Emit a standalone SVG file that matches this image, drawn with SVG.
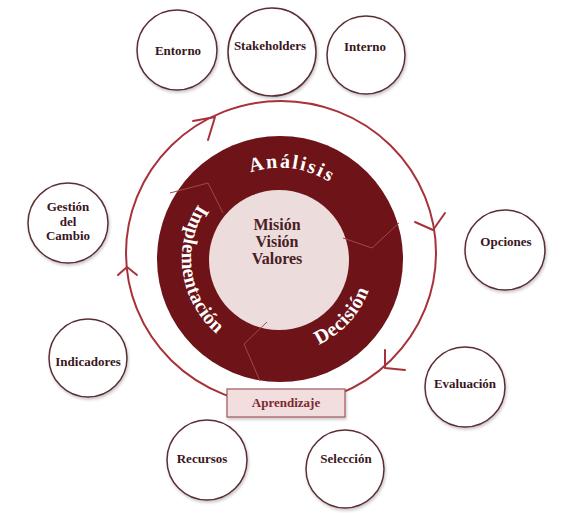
<svg xmlns="http://www.w3.org/2000/svg" width="585" height="513" viewBox="0 0 585 513">
<defs>
<filter id="sh" x="-20%" y="-20%" width="140%" height="140%">
<feDropShadow dx="1" dy="2" stdDeviation="1.5" flood-color="#000" flood-opacity="0.22"/>
</filter>
<path id="pA" d="M188.79,246.99 A92,92 0 0 1 371.21,271.01"/>
<path id="pI" d="M266.36,161.95 A98,98 0 0 0 293.64,356.05"/>
<path id="pD" d="M216.49,328.30 A94,94 0 0 0 343.51,189.70"/>
</defs>
<style>
.node circle{fill:#fff;stroke:#5a2e32;stroke-width:1.5;filter:url(#sh)}
.lbl{font-family:"Liberation Serif","Times New Roman",serif;font-weight:bold;font-size:13px;fill:#3a161c;text-anchor:middle}
.ring{fill:none;stroke:#a8323a;stroke-width:2}
.chev{fill:none;stroke:#a8323a;stroke-width:2;stroke-linecap:round;stroke-linejoin:round}
.div{fill:none;stroke:#a0484c;stroke-width:1}
.seg{font-family:"Liberation Serif","Times New Roman",serif;font-weight:bold;font-size:20px;fill:#fff}
.core{font-family:"Liberation Serif","Times New Roman",serif;font-weight:bold;font-size:16px;fill:#4a1c24;text-anchor:middle}
</style>
<rect width="585" height="513" fill="#fff"/>

<g id="connectors">
<ellipse class="ring" cx="281" cy="253" rx="155" ry="152"/>
<path class="chev" d="M193,121 L215,117 L208,140"/>
<path class="chev" d="M415,222 L433,230 L445,213"/>
<path class="chev" d="M385,350 L385,368 L405,370"/>
<path class="chev" d="M118,275 L127,267 L137,275"/>
</g>

<g id="cycle">
<circle cx="280" cy="259" r="123" fill="#6e1418"/>
<circle cx="279" cy="260" r="70" fill="#ecdcdc"/>
<path class="div" d="M170,193 L208,183 L223,213"/>
<path class="div" d="M343,238 L372,248 L399,223"/>
<path class="div" d="M267,322 L244,344 L260,381"/>
<text class="seg" letter-spacing="2"><textPath href="#pA" startOffset="50%" text-anchor="middle">Análisis</textPath></text>
<text class="seg" letter-spacing="0.3"><textPath href="#pI" startOffset="50%" text-anchor="middle">Implementación</textPath></text>
<text class="seg" letter-spacing="0.5"><textPath href="#pD" startOffset="50%" text-anchor="middle">Decisión</textPath></text>
<text class="core" x="277" y="230">Misión</text>
<text class="core" x="277" y="247">Visión</text>
<text class="core" x="277" y="264">Valores</text>
</g>

<g id="aprendizaje">
<rect x="227" y="389" width="118" height="28" fill="#f2dede" stroke="#a0585c" stroke-width="1.2" filter="url(#sh)"/>
<text class="lbl" x="286" y="407" fill="#7a2a30" style="fill:#7a2a30">Aprendizaje</text>
</g>

<g id="entorno" class="node"><circle cx="177" cy="50" r="40"/><text class="lbl" x="178" y="55">Entorno</text></g>
<g id="stakeholders" class="node"><circle cx="272" cy="52" r="44"/><text class="lbl" x="270" y="50">Stakeholders</text></g>
<g id="interno" class="node"><circle cx="366" cy="55" r="39"/><text class="lbl" x="365" y="51">Interno</text></g>
<g id="gestion" class="node"><circle cx="68" cy="223" r="40"/><text class="lbl" x="68" y="211">Gestión</text><text class="lbl" x="68" y="226">del</text><text class="lbl" x="68" y="240">Cambio</text></g>
<g id="indicadores" class="node"><circle cx="88" cy="358" r="39"/><text class="lbl" x="88" y="366">Indicadores</text></g>
<g id="opciones" class="node"><circle cx="505" cy="250" r="40"/><text class="lbl" x="506" y="246">Opciones</text></g>
<g id="evaluacion" class="node"><circle cx="465" cy="387" r="40"/><text class="lbl" x="465" y="388">Evaluación</text></g>
<g id="recursos" class="node"><circle cx="207" cy="460" r="40"/><text class="lbl" x="202" y="463">Recursos</text></g>
<g id="seleccion" class="node"><circle cx="345" cy="469" r="39"/><text class="lbl" x="346" y="463">Selección</text></g>
</svg>
